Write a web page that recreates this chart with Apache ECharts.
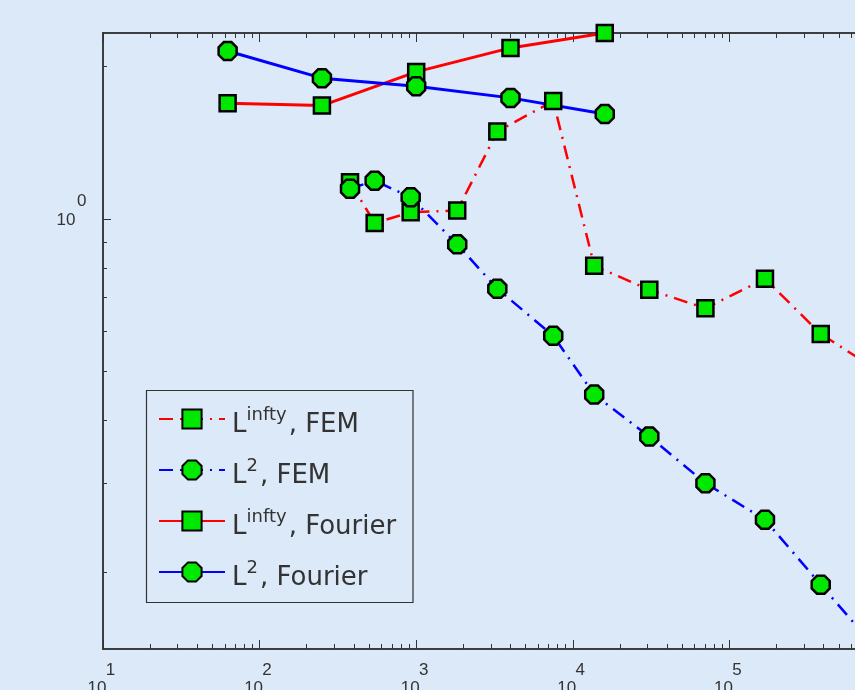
<!DOCTYPE html>
<html>
<head>
<meta charset="utf-8">
<script src="https://cdn.jsdelivr.net/npm/echarts@6/dist/echarts.min.js"></script>
<style>
  html, body { margin: 0; padding: 0; overflow: hidden; background: #dce9f9; }
  #chart { width: 960px; height: 690px; }
</style>
</head>
<body>
<div id="chart"></div>
<script>
// Degrees of freedom for each run
const nFourier = [62.5, 250, 1000, 4000, 16000];
const nFEM = [378, 543, 922, 1828, 3296, 7500, 13700, 30800, 70300, 168700, 383000, 869000];

// Error norms
const linfFEM = [1.181, 0.981, 1.030, 1.038, 1.488, 1.709, 0.807, 0.724, 0.665, 0.761, 0.592, 0.503];
const l2FEM = [1.147, 1.189, 1.103, 0.890, 0.727, 0.587, 0.449, 0.371, 0.300, 0.254, 0.189, 0.141];
const linfFourier = [1.693, 1.674, 1.952, 2.177, 2.33];
const l2Fourier = [2.146, 1.897, 1.829, 1.734, 1.611];

// Series names: base ^ superscript, suffix
const seriesNames = ['L^infty, FEM', 'L^2, FEM', 'L^infty, Fourier', 'L^2, Fourier'];

// Axis ticks
const xMajorTicks = [10, 100, 1000, 10000, 100000, 1000000];
const yMajorTicks = [1];
const yMinorTicks = [0.2, 0.3, 0.4, 0.5, 0.6, 0.7, 0.8, 0.9, 2];
const xMinorTicks = [];
for (let d = 10; d < 1000000; d *= 10) {
  for (let k = 2; k <= 9; k++) xMinorTicks.push(k * d);
}

const X_MIN = 10, X_MAX = 1000000;
const Y_MIN = 0.141, Y_MAX = 2.33;

const BG = '#dce9f9';
const AXIS = '#333';
const TICK_FONT = 'Liberation Sans, Arial, sans-serif';
const LEGEND_FONT = 'DejaVu Sans, sans-serif';
const GREEN = '#00e800';
const OCTAGON = 'path://M7,0L17,0L24,7L24,17L17,24L7,24L0,17L0,7Z';
const DASH_DOT = [14, 7, 2, 7];

const zip = (xs, ys) => xs.map((x, i) => [x, ys[i]]);
const decade = v => Math.round(Math.log10(v));

function logAxis(kind, position, ticks, tickLen, withLabels) {
  const ax = {
    type: 'log',
    logBase: 10,
    position: position,
    min: kind === 'x' ? X_MIN : Y_MIN,
    max: kind === 'x' ? X_MAX : Y_MAX,
    axisLine: { show: true, onZero: false, lineStyle: { color: AXIS, width: 1.5 } },
    axisTick: { show: true, inside: true, length: tickLen, customValues: ticks,
                lineStyle: { color: AXIS, width: 1 } },
    splitLine: { show: false },
    minorTick: { show: false },
    axisLabel: { show: false }
  };
  if (withLabels && kind === 'x') {
    ax.axisLabel = {
      show: true,
      customValues: ticks,
      margin: 12,
      formatter: v => '{e|' + decade(v) + '}\n{b|10}',
      rich: {
        e: { fontSize: 17, lineHeight: 18.5, fontFamily: TICK_FONT, color: AXIS, padding: [0, 0, 0, 15] },
        b: { fontSize: 17, lineHeight: 18.5, fontFamily: TICK_FONT, color: AXIS, padding: [0, 12, 0, 0] }
      }
    };
  }
  if (withLabels && kind === 'y') {
    ax.axisLabel = {
      show: true,
      customValues: ticks,
      align: 'right',
      margin: 16.5,
      padding: [4, 0, 0, 0],
      formatter: v => '{e|' + decade(v) + '}\n{b|10}\n{s| }',
      rich: {
        e: { fontSize: 17, lineHeight: 19.5, fontFamily: TICK_FONT, color: AXIS },
        b: { fontSize: 17, lineHeight: 19.5, fontFamily: TICK_FONT, color: AXIS, padding: [0, 11, 0, 0] },
        s: { fontSize: 17, lineHeight: 19.5 }
      }
    };
  }
  return ax;
}

function lineSeries(name, xs, ys, symbol, size, color, dashed) {
  return {
    name: name,
    type: 'line',
    xAxisIndex: 0,
    yAxisIndex: 0,
    data: zip(xs, ys),
    clip: false,
    symbol: symbol,
    symbolSize: size,
    showAllSymbol: true,
    itemStyle: { color: GREEN, borderColor: '#000', borderWidth: 2.5 },
    lineStyle: { color: color, width: dashed ? 2.5 : 3, type: dashed ? DASH_DOT : 'solid' },
    emphasis: { disabled: true },
    animation: false
  };
}

// "L^infty, FEM" -> L with raised "infty", then ", FEM"
function legendLabel(name) {
  const m = name.match(/^(\w)\^(\w+)(.*)$/);
  return '{b|' + m[1] + '}{s|' + m[2] + '}{b|' + m[3] + '}';
}

const chart = echarts.init(document.getElementById('chart'), null, { renderer: 'canvas' });
chart.setOption({
  backgroundColor: BG,
  animation: false,
  grid: { left: 103, top: 33, width: 783, height: 616, containLabel: false, outerBoundsMode: 'none' },
  xAxis: [
    logAxis('x', 'bottom', xMajorTicks, 9, true),
    logAxis('x', 'bottom', xMinorTicks, 5, false),
    logAxis('x', 'top', xMajorTicks, 9, false),
    logAxis('x', 'top', xMinorTicks, 5, false)
  ],
  yAxis: [
    logAxis('y', 'left', yMajorTicks, 8, true),
    logAxis('y', 'left', yMinorTicks, 4, false)
  ],
  legend: {
    orient: 'vertical',
    left: 158,
    top: 400,
    padding: 0,
    itemWidth: 66,
    itemHeight: 24,
    itemGap: 13,
    selectedMode: false,
    data: seriesNames,
    formatter: legendLabel,
    textStyle: {
      rich: {
        b: { fontSize: 26, height: 26, lineHeight: 38, fontFamily: LEGEND_FONT, color: AXIS,
             padding: [12, 0, 0, 2] },
        s: { fontSize: 18, height: 18, lineHeight: 38, fontFamily: LEGEND_FONT, color: AXIS,
             padding: [6, 0, 14, 0] }
      }
    }
  },
  graphic: [{
    type: 'rect',
    shape: { x: 146.5, y: 390.5, width: 266.5, height: 212 },
    style: { fill: 'none', stroke: AXIS, lineWidth: 1.2 },
    silent: true
  }],
  series: [
    lineSeries(seriesNames[0], nFEM, linfFEM, 'rect', 16, '#ff0000', true),
    lineSeries(seriesNames[1], nFEM, l2FEM, OCTAGON, 18, '#0000ff', true),
    lineSeries(seriesNames[2], nFourier, linfFourier, 'rect', 16, '#ff0000', false),
    lineSeries(seriesNames[3], nFourier, l2Fourier, OCTAGON, 18, '#0000ff', false)
  ]
});
</script>
</body>
</html>
